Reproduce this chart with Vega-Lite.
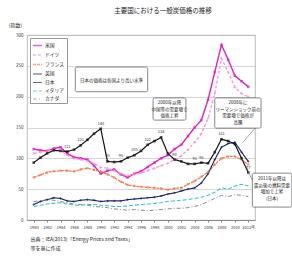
{
  "$schema": "https://vega.github.io/schema/vega-lite/v6.json",
  "width": 228,
  "height": 185,
  "autosize": {"type": "none"},
  "padding": {"left": 27, "top": 35, "right": 37, "bottom": 39},
  "background": "white",
  "title": {"text": "主要国における一般炭価格の推移", "fontSize": 6.5, "font": "Noto Sans CJK JP", "fontWeight": "normal", "anchor": "middle", "dx": 22, "offset": 8, "color": "#222"},
  "config": {
    "font": "Noto Sans CJK JP",
    "view": {"stroke": "#aaa", "strokeWidth": 0.8},
    "axisX": {"labelOverlap": false, "labelFlush": false, "labelBound": false}
  },
  "datasets": {
    "series": [
      {"year": 1980, "米国": 115, "ドイツ": 108, "フランス": 69, "英国": 93, "日本": 25, "イタリア": 22, "カナダ": 30},
      {"year": 1981, "米国": 113, "ドイツ": 110, "フランス": 73, "英国": 101, "日本": 30, "イタリア": 24, "カナダ": 31},
      {"year": 1982, "米国": 112, "ドイツ": 112, "フランス": 77, "英国": 108, "日本": 33, "イタリア": 26, "カナダ": 33},
      {"year": 1983, "米国": 116, "ドイツ": 114, "フランス": 79, "英国": 113, "日本": 36, "イタリア": 27, "カナダ": 32},
      {"year": 1984, "米国": 118, "ドイツ": 113, "フランス": 80, "英国": 112, "日本": 35, "イタリア": 28, "カナダ": 30},
      {"year": 1985, "米国": 108, "ドイツ": 105, "フランス": 80, "英国": 111, "日本": 31, "イタリア": 26, "カナダ": 28},
      {"year": 1986, "米国": 102, "ドイツ": 100, "フランス": 79, "英国": 114, "日本": 30, "イタリア": 24, "カナダ": 26},
      {"year": 1987, "米国": 100, "ドイツ": 98, "フランス": 82, "英国": 121, "日本": 32, "イタリア": 24, "カナダ": 25},
      {"year": 1988, "米国": 98, "ドイツ": 96, "フランス": 84, "英国": 130, "日本": 33, "イタリア": 25, "カナダ": 24},
      {"year": 1989, "米国": 88, "ドイツ": 92, "フランス": 81, "英国": 140, "日本": 32, "イタリア": 25, "カナダ": 22},
      {"year": 1990, "米国": 75, "ドイツ": 85, "フランス": 79, "英国": 148, "日本": 30, "イタリア": 24, "カナダ": 21},
      {"year": 1991, "米国": 80, "ドイツ": 84, "フランス": 74, "英国": 95, "日本": 31, "イタリア": 23, "カナダ": 20},
      {"year": 1992, "米国": 82, "ドイツ": 80, "フランス": 69, "英国": 94, "日本": 31, "イタリア": 22, "カナダ": 18},
      {"year": 1993, "米国": 74, "ドイツ": 75, "フランス": 62, "英国": 95, "日本": 31, "イタリア": 22, "カナダ": 17},
      {"year": 1994, "米国": 69, "ドイツ": 72, "フランス": 57, "英国": 101, "日本": 33, "イタリア": 23, "カナダ": 16},
      {"year": 1995, "米国": 75, "ドイツ": 74, "フランス": 55, "英国": 105, "日本": 34, "イタリア": 24, "カナダ": 17},
      {"year": 1996, "米国": 79, "ドイツ": 76, "フランス": 54, "英国": 112, "日本": 35, "イタリア": 25, "カナダ": 16},
      {"year": 1997, "米国": 86, "ドイツ": 80, "フランス": 53, "英国": 122, "日本": 36, "イタリア": 26, "カナダ": 15},
      {"year": 1998, "米国": 93, "ドイツ": 84, "フランス": 52, "英国": 128, "日本": 37, "イタリア": 27, "カナダ": 16},
      {"year": 1999, "米国": 100, "ドイツ": 88, "フランス": 51, "英国": 134, "日本": 39, "イタリア": 28, "カナダ": 17},
      {"year": 2000, "米国": 105, "ドイツ": 92, "フランス": 49, "英国": 108, "日本": 42, "イタリア": 30, "カナダ": 18},
      {"year": 2001, "米国": 115, "ドイツ": 98, "フランス": 51, "英国": 98, "日本": 44, "イタリア": 31, "カナダ": 19},
      {"year": 2002, "米国": 122, "ドイツ": 104, "フランス": 52, "英国": 95, "日本": 47, "イタリア": 32, "カナダ": 19},
      {"year": 2003, "米国": 136, "ドイツ": 114, "フランス": 58, "英国": 91, "日本": 50, "イタリア": 33, "カナダ": 20},
      {"year": 2004, "米国": 150, "ドイツ": 126, "フランス": 63, "英国": 91, "日本": 52, "イタリア": 35, "カナダ": 22},
      {"year": 2005, "米国": 162, "ドイツ": 140, "フランス": 70, "英国": 93, "日本": 60, "イタリア": 37, "カナダ": 25},
      {"year": 2006, "米国": 195, "ドイツ": 165, "フランス": 78, "英国": 92, "日本": 75, "イタリア": 40, "カナダ": 30},
      {"year": 2007, "米国": 240, "ドイツ": 205, "フランス": 90, "英国": 110, "日本": 98, "イタリア": 45, "カナダ": 35},
      {"year": 2008, "米国": 284, "ドイツ": 262, "フランス": 100, "英国": 131, "日本": 118, "イタリア": 52, "カナダ": 40},
      {"year": 2009, "米国": 260, "ドイツ": 240, "フランス": 103, "英国": 128, "日本": 124, "イタリア": 50, "カナダ": 38},
      {"year": 2010, "米国": 234, "ドイツ": 215, "フランス": 103, "英国": 123, "日本": 126, "イタリア": 55, "カナダ": 41},
      {"year": 2011, "米国": 225, "ドイツ": 205, "フランス": 98, "英国": 100, "日本": 110, "イタリア": 58, "カナダ": 40},
      {"year": 2012, "米国": 216, "ドイツ": 200, "フランス": 90, "英国": 77, "日本": 95, "イタリア": 55, "カナダ": 38}
    ],
    "notes": [
      {"x0": 1986.2, "x1": 1997.0, "y0": 248, "y1": 208, "xc": 1991.6, "yt": 231, "txt": "日本の価格は各国より高い水準"},
      {"x0": 1997.8, "x1": 2002.7, "y0": 198, "y1": 162, "xc": 2000.25, "yt": 194, "txt": "2000年以降\n中国等の需要増で\n価格上昇"},
      {"x0": 2007.0, "x1": 2013.9, "y0": 198, "y1": 149, "xc": 2010.45, "yt": 194, "txt": "2008年に\nリーマンショック前の\n需要増で価格が\n高騰"},
      {"x0": 2012.6, "x1": 2018.5, "y0": 76, "y1": 21, "xc": 2015.55, "yt": 71, "txt": "2011年以降は\n震災後の燃料需要\n増加で上昇\n(日本)"}
    ],
    "pointers": [
      {"xa": 2013.0, "xb": 2011.2, "ya": 149, "yb": 126},
      {"xa": 2012.7, "xb": 2011.6, "ya": 62, "yb": 88}
    ]
  },
  "layer": [
    {
      "data": {"name": "series"},
      "transform": [{"fold": ["米国", "ドイツ", "フランス", "英国", "日本", "イタリア", "カナダ"], "as": ["country", "value"]}],
      "mark": {"type": "line", "clip": true},
      "encoding": {
        "x": {"field": "year", "type": "quantitative", "scale": {"domain": [1979, 2013], "nice": false},
          "axis": {"values": [1980, 1982, 1984, 1986, 1988, 1990, 1992, 1994, 1996, 1998, 2000, 2002, 2004, 2006, 2008, 2010, 2012], "tickCount": 40,
            "format": "d", "labelExpr": "datum.value == 2012 ? '2012年' : datum.label", "labelOverlap": false, "labelFontSize": 4, "labelColor": "#333", "grid": false, "tickSize": 2, "tickColor": "#888", "domainColor": "#888", "labelPadding": 3,
            "title": ["出典：IEA(2013)「Energy Prices and Taxes」", "等を基に作成"], "titleFontSize": 5, "titleFontWeight": "normal", "titleColor": "#222", "titleAnchor": "start", "titleAlign": "left", "titleBaseline": "top", "titleX": 3, "titleY": 16, "titleLineHeight": 9}},
        "y": {"field": "value", "type": "quantitative", "scale": {"domain": [0, 300], "nice": false},
          "axis": {"values": [0, 50, 100, 150, 200, 250, 300], "tickCount": 20, "labelFontSize": 4.5, "labelColor": "#333", "grid": true, "gridColor": "#bbb", "gridWidth": 0.6, "tickSize": 0, "domain": false, "labelPadding": 4,
            "title": "(指数)", "titleFontSize": 5, "titleFontWeight": "normal", "titleColor": "#222", "titleAngle": 0, "titleX": -12, "titleY": -8, "titleAlign": "center", "titleBaseline": "bottom"}},
        "color": {"field": "country", "type": "nominal",
          "scale": {"domain": ["米国", "ドイツ", "フランス", "英国", "日本", "イタリア", "カナダ"], "range": ["#e020c0", "#f39ad8", "#f07c4a", "#111111", "#1c2466", "#3cc4c4", "#8a8a8a"]},
          "legend": {"orient": "top-left", "offset": 3, "padding": 2, "strokeColor": "#999", "fillColor": "white", "title": null, "labelFontSize": 4.8, "labelColor": "#222", "symbolType": "stroke", "symbolSize": 80, "symbolStrokeWidth": 1.3, "rowPadding": 0.5, "labelOffset": 2}},
        "strokeDash": {"field": "country", "type": "nominal",
          "scale": {"domain": ["米国", "ドイツ", "フランス", "英国", "日本", "イタリア", "カナダ"], "range": [[1, 0], [3, 2], [3, 1], [1, 0], [1, 0], [4, 2], [4, 2, 1, 2]]},
          "legend": {"orient": "top-left", "title": null}},
        "strokeWidth": {"field": "country", "type": "nominal",
          "scale": {"domain": ["米国", "ドイツ", "フランス", "英国", "日本", "イタリア", "カナダ"], "range": [1.4, 1, 1, 1.8, 1.8, 0.9, 0.9]},
          "legend": null}
      }
    },
    {
      "data": {"name": "series"},
      "transform": [
        {"fold": ["米国", "ドイツ", "フランス", "英国", "日本"], "as": ["country", "value"]}
      ],
      "mark": {"type": "point", "filled": true, "size": 7, "clip": true},
      "encoding": {
        "x": {"field": "year", "type": "quantitative"},
        "y": {"field": "value", "type": "quantitative"},
        "color": {"field": "country", "type": "nominal"},
        "shape": {"field": "country", "type": "nominal",
          "scale": {"domain": ["米国", "ドイツ", "フランス", "英国", "日本"], "range": ["square", "cross", "circle", "square", "diamond"]},
          "legend": null}
      }
    },
    {
      "data": {"name": "series"},
      "transform": [{"filter": {"field": "year", "oneOf": [1985, 1987, 1990, 1991, 1993, 1995, 1997, 1999, 2001, 2004, 2005, 2008, 2012]}}],
      "mark": {"type": "text", "fontSize": 4, "dy": -5, "color": "#333"},
      "encoding": {
        "x": {"field": "year", "type": "quantitative"},
        "y": {"field": "英国", "type": "quantitative"},
        "text": {"field": "英国", "type": "quantitative"}
      }
    },
    {
      "data": {"name": "pointers"},
      "mark": {"type": "rule", "color": "#666", "strokeWidth": 0.6},
      "encoding": {
        "x": {"field": "xa", "type": "quantitative"},
        "x2": {"field": "xb"},
        "y": {"field": "ya", "type": "quantitative"},
        "y2": {"field": "yb"}
      }
    },
    {
      "data": {"name": "notes"},
      "mark": {"type": "rect", "fill": "white", "stroke": "#555", "strokeWidth": 0.7, "cornerRadius": 1.5},
      "encoding": {
        "x": {"field": "x0", "type": "quantitative"},
        "x2": {"field": "x1"},
        "y": {"field": "y0", "type": "quantitative"},
        "y2": {"field": "y1"}
      }
    },
    {
      "data": {"name": "notes"},
      "mark": {"type": "text", "fontSize": 4.5, "lineBreak": "\n", "lineHeight": 6.5, "align": "center", "baseline": "top", "color": "#222"},
      "encoding": {
        "x": {"field": "xc", "type": "quantitative"},
        "y": {"field": "yt", "type": "quantitative"},
        "text": {"field": "txt"}
      }
    }
  ]
}
